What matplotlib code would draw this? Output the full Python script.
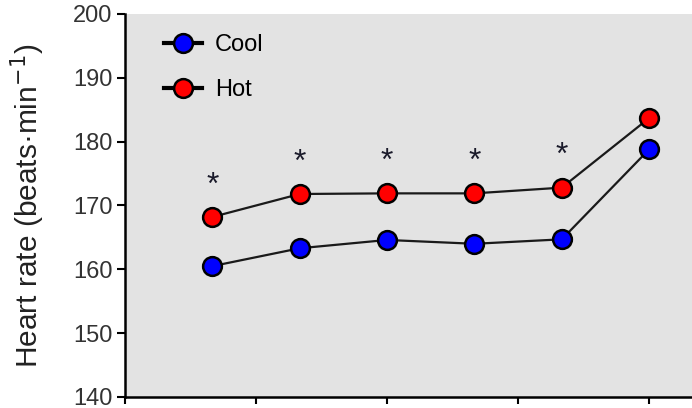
import matplotlib
matplotlib.use("Agg")
import matplotlib.pyplot as plt
from matplotlib.lines import Line2D

plt.rcParams['font.family'] = ['Liberation Sans', 'DejaVu Sans']

time_min = [10, 20, 30, 40, 50, 60]
cool_hr = [160.5, 163.3, 164.6, 164.0, 164.7, 178.8]
hot_hr = [168.2, 171.8, 171.9, 171.9, 172.8, 183.7]
significant = [True, True, True, True, True, False]
x_ticks = [0, 15, 30, 45, 60]
y_ticks = [140, 150, 160, 170, 180, 190, 200]
series_names = ["Cool", "Hot"]

fig = plt.figure(figsize=(6.92, 4.08), dpi=100)
ax = fig.add_axes([0.1806, 0.027, 0.8194, 0.9387])
ax.set_facecolor('#e3e3e3')

ms = 13.5
ax.plot(time_min, cool_hr, color='#1a1a1a', lw=1.6, marker='o', ms=ms,
        mfc='#0000ff', mec='black', mew=1.8, zorder=3)
ax.plot(time_min, hot_hr, color='#1a1a1a', lw=1.6, marker='o', ms=ms,
        mfc='#ff0000', mec='black', mew=1.8, zorder=3)

for t, h, s in zip(time_min, hot_hr, significant):
    if s:
        ax.annotate('*', (t, h), xytext=(0, 22.5), textcoords='offset points',
                    ha='center', va='center', fontsize=23, color='#1a1a2a')

ax.set_xlim(0, 64.9)
ax.set_ylim(140, 200)
ax.set_xticks(x_ticks)
ax.set_xticklabels([])
ax.set_yticks(y_ticks)
ax.tick_params(axis='y', direction='out', length=6, width=1.5, labelsize=17,
               pad=3, colors='black', labelcolor='#333333')
ax.tick_params(axis='x', direction='out', length=5, width=1.5)
for side in ['top', 'right']:
    ax.spines[side].set_visible(False)
for side in ['left', 'bottom']:
    ax.spines[side].set_linewidth(1.8)
    ax.spines[side].set_color('black')

ax.set_ylabel('Heart rate (beats\u00b7min$^{-1}$)', fontsize=21.5, color='#222222')
ax.yaxis.set_label_coords(-0.138, 0.5)

handles = [
    Line2D([], [], color='black', lw=3, marker='o', ms=ms, mfc='#0000ff',
           mec='black', mew=1.8),
    Line2D([], [], color='black', lw=3, marker='o', ms=ms, mfc='#ff0000',
           mec='black', mew=1.8),
]
ax.legend(handles, series_names, loc='upper left', frameon=False,
          fontsize=17, handlelength=1.6, handletextpad=0.55,
          labelspacing=0.95, bbox_to_anchor=(0.04, 0.99), borderaxespad=0.3)

fig.savefig('out.png', dpi=100)
